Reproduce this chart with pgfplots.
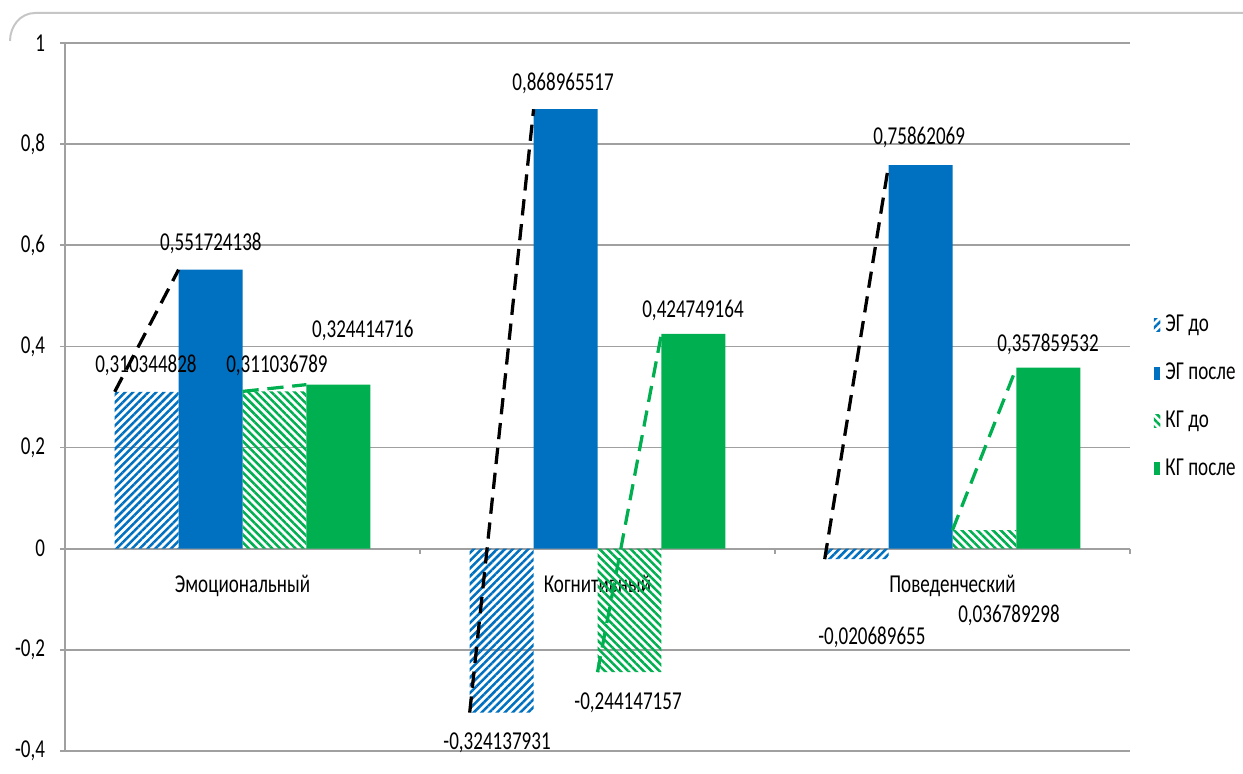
\documentclass[border=0pt]{standalone}
\usepackage{fontspec}
\setmainfont{Carlito}[FakeStretch=0.74]
\usepackage{pgfplots}
\pgfplotsset{compat=1.18}
\usetikzlibrary{patterns.meta}

\definecolor{egblue}{HTML}{0070C0}
\definecolor{kggreen}{HTML}{00B050}
\definecolor{gridgray}{HTML}{A0A0A0}

\begin{document}
\begin{tikzpicture}[font=\fontsize{10.3}{12}\selectfont,
    lab/.style={inner sep=0pt, font=\fontsize{10.3}{12}\selectfont}]
  \useasboundingbox (-26pt,-9.2pt) rectangle (471.2pt,300.4pt);
  \draw[gray!45, line width=0.8pt] (-22pt,284pt) to[out=90,in=180] (-12pt,295.2pt) -- (472pt,295.2pt);
  \begin{axis}[
      at={(0pt,0pt)}, anchor=south west,
      scale only axis,
      width=426pt, height=283.2pt,
      xmin=-0.5, xmax=2.5,
      ymin=-0.4, ymax=1,
      axis x line=middle,
      axis y line=left,
      axis line style={-, draw=gridgray, line width=0.7pt},
      ytick={-0.4,-0.2,0,0.2,0.4,0.6,0.8,1},
      yticklabels={{-0,4},{-0,2},0,{0,2},{0,4},{0,6},{0,8},1},
      ymajorgrids,
      grid style={gridgray, line width=0.7pt},
      major tick length=2pt,
      tick align=outside,
      tick style={gridgray, line width=0.7pt},
      xtick={-0.5,0.5,1.5,2.5},
      xticklabels={},
      extra x ticks={0,1,2},
      extra x tick labels={Эмоциональный,Когнитивный,Поведенческий},
      extra x tick style={major tick length=0pt, grid=none,
        xticklabel style={yshift=-7pt}},
      yticklabel style={xshift=-2.5pt},
      tick label style={font=\fontsize{10.3}{12}\selectfont},
      clip=false,
      legend style={at={(1.022,0.5)}, anchor=west, draw=none, fill=none,
        font=\fontsize{10.3}{12}\selectfont, row sep=7pt, inner sep=0pt},
      legend cell align=left,
      legend image code/.code={\path[#1] (0pt,-2.6pt) rectangle (2.6pt,2.6pt);},
    ]
    % ЭГ до
    \addplot[ybar, bar width=0.18, bar shift=-0.27, draw=none,
      pattern={Lines[angle=45, distance=2.2pt, line width=1pt]}, pattern color=egblue]
      coordinates {(0,0.310344828) (1,-0.324137931) (2,-0.020689655)};
    % ЭГ после
    \addplot[ybar, bar width=0.18, bar shift=-0.09, draw=none, fill=egblue]
      coordinates {(0,0.551724138) (1,0.868965517) (2,0.75862069)};
    % КГ до
    \addplot[ybar, bar width=0.18, bar shift=0.09, draw=none,
      pattern={Lines[angle=-45, distance=2.2pt, line width=1pt]}, pattern color=kggreen]
      coordinates {(0,0.311036789) (1,-0.244147157) (2,0.036789298)};
    % КГ после
    \addplot[ybar, bar width=0.18, bar shift=0.27, draw=none, fill=kggreen]
      coordinates {(0,0.324414716) (1,0.424749164) (2,0.357859532)};
    \legend{ЭГ до, ЭГ после, КГ до, КГ после}

    % dashed links before -> after
    \addplot[forget plot, black, line width=1.3pt, dash pattern=on 6.5pt off 3.5pt, unbounded coords=jump]
      coordinates {(-0.36,0.310344828) (-0.18,0.551724138) (0.5,nan)
                   (0.64,-0.324137931) (0.82,0.868965517) (1.5,nan)
                   (1.64,-0.020689655) (1.82,0.75862069)};
    \addplot[forget plot, kggreen, line width=1.3pt, dash pattern=on 6.5pt off 3.5pt, unbounded coords=jump]
      coordinates {(0,0.311036789) (0.18,0.324414716) (1,nan)
                   (1,-0.244147157) (1.18,0.424749164) (2,nan)
                   (2,0.036789298) (2.18,0.357859532)};

    % data labels
    \node[lab] at (axis cs:-0.272,0.362) {0,310344828};
    \node[lab] at (axis cs:-0.089,0.603) {0,551724138};
    \node[lab] at (axis cs:0.097,0.362) {0,311036789};
    \node[lab] at (axis cs:0.339,0.431) {0,324414716};
    \node[lab] at (axis cs:0.717,-0.384) {-0,324137931};
    \node[lab] at (axis cs:0.903,0.920) {0,868965517};
    \node[lab] at (axis cs:1.086,-0.305) {-0,244147157};
    \node[lab] at (axis cs:1.269,0.471) {0,424749164};
    \node[lab] at (axis cs:1.773,-0.176) {-0,020689655};
    \node[lab] at (axis cs:1.906,0.813) {0,75862069};
    \node[lab] at (axis cs:2.159,-0.131) {0,036789298};
    \node[lab] at (axis cs:2.269,0.405) {0,357859532};
  \end{axis}
\end{tikzpicture}
\end{document}
